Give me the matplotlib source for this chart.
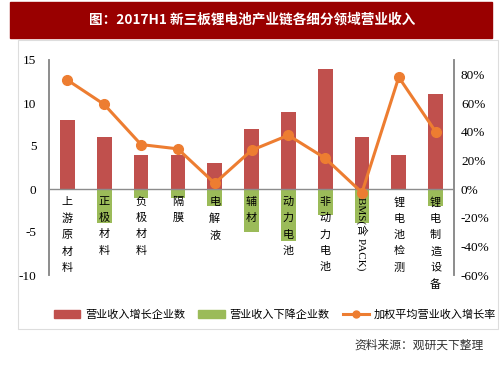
import matplotlib.pyplot as plt
from matplotlib.patches import Rectangle
from matplotlib.lines import Line2D
from matplotlib.patches import Patch

plt.rcParams['font.family'] = ['Noto Sans CJK SC', 'DejaVu Sans']

#data
categories = ['上游原材料', '正极材料', '负极材料', '隔膜', '电解液', '辅材',
              '动力电池', '非动力电池', 'BMS(含 PACK)', '锂电池检测', '锂电制造设备']
up_counts = [8, 6, 4, 4, 3, 7, 9, 14, 6, 4, 11]
down_counts = [0, -4, -1, -1, -2, -5, -6, -3, -4, 0, -2]
growth_rate = [0.76, 0.59, 0.31, 0.28, 0.04, 0.27, 0.375, 0.215, -0.025, 0.78, 0.40]
left_ticks = [-10, -5, 0, 5, 10, 15]
right_ticks = [-0.6, -0.4, -0.2, 0, 0.2, 0.4, 0.6, 0.8]

#colors
red = '#C0504D'
green = '#9BBB59'
orange = '#ED7D31'
grey = '#8C8C8C'

fig = plt.figure(figsize=(5.03, 3.78), dpi=100)

#title bar
fig.patches.append(Rectangle((10/503, 1-38/378), 482/503, 36/378,
                             transform=fig.transFigure, color='#990000', zorder=0))
fig.text(252/503, 1-20/378, '图：2017H1 新三板锂电池产业链各细分领域营业收入',
         color='white', fontsize=9.8, fontweight='bold', ha='center', va='center')

#chart frame
fig.patches.append(Rectangle((18/503, 1-329/378), 480/503, 289/378, transform=fig.transFigure,
                             fill=False, edgecolor='#DDDDDD', linewidth=0.8, zorder=0))

ax = fig.add_axes([49/503, 1-275/378, 405/503, 215/378])
ax2 = ax.twinx()

x = list(range(len(categories)))
ax.bar(x, up_counts, width=0.4, color=red, zorder=2)
ax.bar(x, down_counts, width=0.4, color=green, zorder=2)
ax.axhline(0, color=grey, linewidth=1, zorder=3)

ax2.plot(x, growth_rate, color=orange, linewidth=2.2, marker='o', markersize=7, zorder=4)

ax.set_xlim(-0.5, len(categories) - 0.5)
ax.set_ylim(-10, 15)
ax2.set_ylim(-0.6, 0.9)
ax.set_yticks(left_ticks)
ax.set_yticklabels([str(t) for t in left_ticks], family='Liberation Serif', fontsize=9.5)
ax2.set_yticks(right_ticks)
ax2.set_yticklabels(['%d%%' % round(t*100) for t in right_ticks], family='Liberation Serif', fontsize=9.5)
ax.set_xticks([])
ax.tick_params(axis='y', length=0, pad=9)
ax2.tick_params(axis='y', length=0, pad=5)

for a in (ax, ax2):
    a.spines['top'].set_visible(False)
    a.spines['bottom'].set_visible(False)
    a.spines['left'].set_color(grey)
    a.spines['right'].set_color(grey)
    a.spines['left'].set_linewidth(1.2)
    a.spines['right'].set_linewidth(1.2)

ax.set_zorder(ax2.get_zorder() - 1)
ax.patch.set_visible(False)

#vertical category labels
for i, name in enumerate(categories):
    if name.startswith('BMS'):
        ax.text(i, -0.9, name, rotation=270, ha='center', va='top', fontsize=8,
                family=['Liberation Serif', 'Noto Sans CJK SC'], zorder=5)
    else:
        ax.text(i, -0.9, '\n'.join(name), ha='center', va='top', fontsize=8,
                linespacing=1.78, zorder=5, clip_on=False)

#legend
handles = [Patch(color=red, label='营业收入增长企业数'),
           Patch(color=green, label='营业收入下降企业数'),
           Line2D([0], [0], color=orange, linewidth=2.2, marker='o', markersize=5,
                  label='加权平均营业收入增长率')]
fig.legend(handles=handles, loc='center', bbox_to_anchor=(275/503, 1-315/378), ncol=3,
           frameon=False, fontsize=8, handlelength=2.4, columnspacing=1.2,
           handletextpad=0.4)

fig.text(484/503, 1-345/378, '资料来源：观研天下整理', ha='right', va='center',
         fontsize=8.5, color='#333333')

plt.savefig('out.png', dpi=100)
